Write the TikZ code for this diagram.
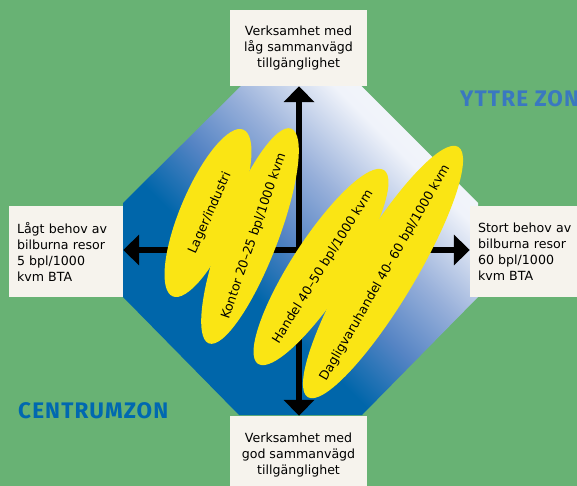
\documentclass[tikz,border=0pt]{standalone}
\usepackage{fontspec}
\setmainfont{DejaVu Sans}
\newfontfamily\zonefont[LetterSpace=5]{Fira Sans}
\usepackage{tikz}
\usetikzlibrary{arrows.meta,shapes.geometric}

\definecolor{bggreen}{RGB}{104,178,116}
\definecolor{boxwhite}{RGB}{246,243,237}
\definecolor{ovalyellow}{RGB}{250,229,20}
\definecolor{octblue}{RGB}{0,102,170}
\definecolor{midblue}{RGB}{85,132,196}
\definecolor{paleblue}{RGB}{152,176,218}
\definecolor{whiteblue}{RGB}{240,243,250}
\definecolor{zonblue}{RGB}{0,104,176}
\definecolor{yttreblue}{RGB}{58,120,192}

\pgfdeclareverticalshading{octshade}{100bp}{color(0bp)=(octblue); color(40bp)=(octblue);
  color(50bp)=(midblue); color(60bp)=(paleblue); color(72bp)=(whiteblue); color(100bp)=(white)}

\tikzset{
  infobox/.style={fill=boxwhite,font=\fontsize{12.6}{16}\selectfont,inner sep=0pt},
  axis/.style={line width=5.5pt,-{Triangle[width=30pt,length=16pt]}},
  oval/.style={ellipse,fill=ovalyellow,inner sep=0pt},
  ovaltext/.style={inner sep=0pt,font=\fontsize{12.6}{15}\selectfont},
  zone/.style={font=\zonefont\fontsize{22.5}{26}\selectfont\bfseries,anchor=west,inner sep=0pt}
}

\begin{document}
\begin{tikzpicture}[x=1pt,y=-1pt]

\useasboundingbox (0,0) rectangle (577,486);
\fill[bggreen] (0,0) rectangle (577,486);

\coordinate (o) at (299,250);
\begin{scope}
  \clip (241,86) -- (362,86) -- (478,203) -- (478,297) -- (362,415) -- (239,415) -- (123,297) -- (123,203) -- cycle;
  \begin{scope}[transform canvas={rotate around={-45:(o)}}]
    \shade[shading=octshade] ([shift={(-260,-160)}]o) rectangle ([shift={(260,160)}]o);
  \end{scope}
\end{scope}

\node[infobox,minimum width=137pt,minimum height=76pt,align=center] (top) at (298.5,48) {Verksamhet med\\låg sammanvägd\\tillgänglighet};
\node[infobox,minimum width=137pt,minimum height=78pt,align=center] (bottom) at (298.5,455) {Verksamhet med\\god sammanvägd\\tillgänglighet};
\node[infobox,minimum width=114pt,minimum height=91pt,text width=98pt,align=left] (left) at (66,251.5) {Lågt behov av\\bilburna resor\\5 bpl/1000\\kvm BTA};
\node[infobox,minimum width=114pt,minimum height=91pt,text width=98pt,align=left] (right) at (527,251.5) {Stort behov av\\bilburna resor\\60 bpl/1000\\kvm BTA};

\draw[axis] (o) -- (o |- top.south);
\draw[axis] (o) -- (o |- bottom.north);
\draw[axis] (o) -- (o -| left.east);
\draw[axis] (o) -- (o -| right.west);

\node[oval,minimum width=181pt,minimum height=55pt,rotate=67] (lager) at (208,213) {};
\node[oval,minimum width=230pt,minimum height=56pt,rotate=69] (kontor) at (250,236) {};
\node[oval,minimum width=231pt,minimum height=58pt,rotate=57] (handel) at (321,267) {};
\node[oval,minimum width=292pt,minimum height=64pt,rotate=59] (daglig) at (383,272) {};

\node[ovaltext,rotate=66] (lagertext) at (210,213) {Lager/industri};
\node[ovaltext,rotate=71] (kontortext) at (254,236) {Kontor 20–25 bpl/1000 kvm};
\node[ovaltext,rotate=58] (handeltext) at (323,267) {Handel 40–50 bpl/1000 kvm};
\node[ovaltext,rotate=60] (dagligtext) at (385,273) {Dagligvaruhandel 40- 60 bpl/1000 kvm};

\node[zone,text=zonblue] (centrum) at (18,410.5) {CENTRUMZON};
\node[zone,text=yttreblue] (yttre) at (460,98.5) {YTTRE ZON};
\end{tikzpicture}
\end{document}
